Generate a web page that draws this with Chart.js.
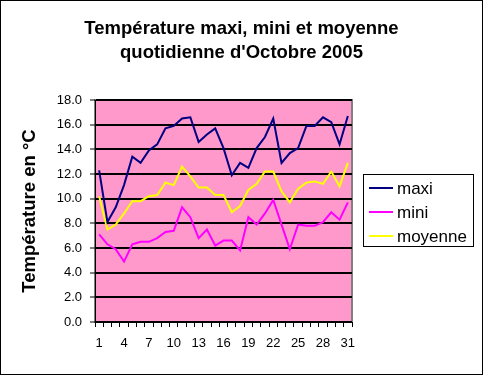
<!DOCTYPE html>
<html>
<head>
<meta charset="utf-8">
<script src="https://cdn.jsdelivr.net/npm/chart.js@4"></script>
<style>
  html, body { margin: 0; padding: 0; background: #fff; }
  #wrap { width: 483px; height: 375px; }
</style>
</head>
<body>
<div id="wrap"><canvas id="tempChart" width="483" height="375"></canvas></div>
<script>
const days = [];
for (let d = 1; d <= 31; d++) days.push(String(d));

const maxi = [12.3, 8.1, 9.3, 11.1, 13.4, 12.9, 13.9, 14.4, 15.7, 15.9, 16.5, 16.6, 14.6, 15.2, 15.7,
  14.1, 11.9, 12.9, 12.5, 14.1, 15.0, 16.5, 12.9, 13.7, 14.1, 15.9, 15.9, 16.6, 16.2, 14.4, 16.7];
const mini = [7.1, 6.3, 5.9, 4.9, 6.3, 6.5, 6.5, 6.8, 7.3, 7.4, 9.3, 8.5, 6.8, 7.5, 6.2,
  6.6, 6.6, 5.8, 8.5, 7.9, 8.8, 9.9, 7.9, 5.9, 7.9, 7.8, 7.8, 8.1, 8.9, 8.3, 9.7];
const moyenne = [10.2, 7.5, 7.9, 8.8, 9.8, 9.8, 10.2, 10.3, 11.3, 11.1, 12.6, 11.8, 10.9, 10.9, 10.3,
  10.3, 8.9, 9.4, 10.7, 11.2, 12.2, 12.2, 10.6, 9.7, 10.8, 11.3, 11.4, 11.2, 12.2, 11.0, 12.9];

const font = "'Liberation Sans', Arial, sans-serif";

// pink plot area + frame around the whole picture
const plotBack = {
  id: "plotBack",
  beforeDraw(chart) {
    const { ctx, chartArea: a } = chart;
    ctx.save();
    ctx.fillStyle = "#fff";
    ctx.fillRect(0, 0, chart.width, chart.height);
    ctx.fillStyle = "#FF99CC";
    ctx.fillRect(a.left, a.top, a.right - a.left, a.bottom - a.top);
    ctx.strokeStyle = "#808080";
    ctx.lineWidth = 2;
    ctx.strokeRect(a.left, a.top, a.right - a.left, a.bottom - a.top);
    ctx.restore();
  },
  afterDraw(chart) {
    const ctx = chart.ctx;
    ctx.save();
    ctx.strokeStyle = "#000";
    ctx.lineWidth = 1;
    ctx.strokeRect(0.5, 0.5, chart.width - 1, chart.height - 1);
    ctx.restore();
  }
};

// boxed legend on the right, like Excel
const boxLegend = {
  id: "boxLegend",
  afterDraw(chart) {
    const ctx = chart.ctx;
    const x = 363, y = 174, w = 110, h = 72;
    ctx.save();
    ctx.fillStyle = "#fff";
    ctx.fillRect(x, y, w, h);
    ctx.strokeStyle = "#000";
    ctx.lineWidth = 1;
    ctx.strokeRect(x + 0.5, y + 0.5, w, h);
    ctx.font = "17px " + font;
    ctx.textBaseline = "middle";
    chart.data.datasets.forEach((ds, i) => {
      const ly = y + 14 + i * 24;
      ctx.strokeStyle = ds.borderColor;
      ctx.lineWidth = 2;
      ctx.beginPath();
      ctx.moveTo(x + 6, ly);
      ctx.lineTo(x + 30, ly);
      ctx.stroke();
      ctx.fillStyle = "#000";
      ctx.fillText(ds.label, x + 34, ly + 1);
    });
    ctx.restore();
  }
};

new Chart(document.getElementById("tempChart"), {
  type: "line",
  data: {
    labels: days,
    datasets: [
      { label: "maxi", data: maxi, borderColor: "#000080" },
      { label: "mini", data: mini, borderColor: "#FF00FF" },
      { label: "moyenne", data: moyenne, borderColor: "#FFFF00" }
    ]
  },
  options: {
    responsive: false,
    animation: false,
    layout: { padding: 0 },
    elements: {
      line: { borderWidth: 2, tension: 0 },
      point: { radius: 0 }
    },
    plugins: {
      legend: { display: false },
      tooltip: { enabled: false },
      title: {
        display: true,
        fullSize: true,
        text: ["Température maxi, mini et moyenne", "quotidienne d'Octobre 2005"],
        color: "#000",
        font: { family: font, size: 18.5, weight: "bold", lineHeight: "24px" },
        padding: { top: 17, bottom: 35 }
      }
    },
    scales: {
      x: {
        type: "category",
        offset: true,
        afterFit(scale) { scale.height = 53; },
        grid: {
          offset: true,
          drawOnChartArea: false,
          tickLength: 5,
          tickColor: "#000",
          tickWidth: 1
        },
        border: { display: true, color: "#000", width: 1 },
        ticks: {
          autoSkip: false,
          maxRotation: 0,
          padding: 9,
          color: "#000",
          font: { family: font, size: 13 },
          callback(v, i) { return i % 3 === 0 ? this.getLabelForValue(v) : ""; }
        }
      },
      y: {
        min: 0,
        max: 18,
        afterFit(scale) { scale.width = 95; },
        grid: {
          color: "#000",
          lineWidth: 2,
          tickLength: 5,
          tickColor: "#000",
          tickWidth: 1
        },
        border: { display: true, color: "#000", width: 1 },
        ticks: {
          stepSize: 2,
          padding: 8,
          color: "#000",
          font: { family: font, size: 13 },
          callback(v) { return v.toFixed(1); }
        },
        title: {
          display: true,
          text: "Température en °C",
          color: "#000",
          font: { family: font, size: 18.5, weight: "bold" },
          padding: { top: 19, bottom: 0 }
        }
      },
      // empty right-hand column that leaves room for the legend box
      side: {
        type: "linear",
        position: "right",
        afterFit(scale) { scale.width = 131; },
        grid: { display: false },
        border: { display: false },
        ticks: { display: false }
      }
    }
  },
  plugins: [plotBack, boxLegend]
});
</script>
</body>
</html>
